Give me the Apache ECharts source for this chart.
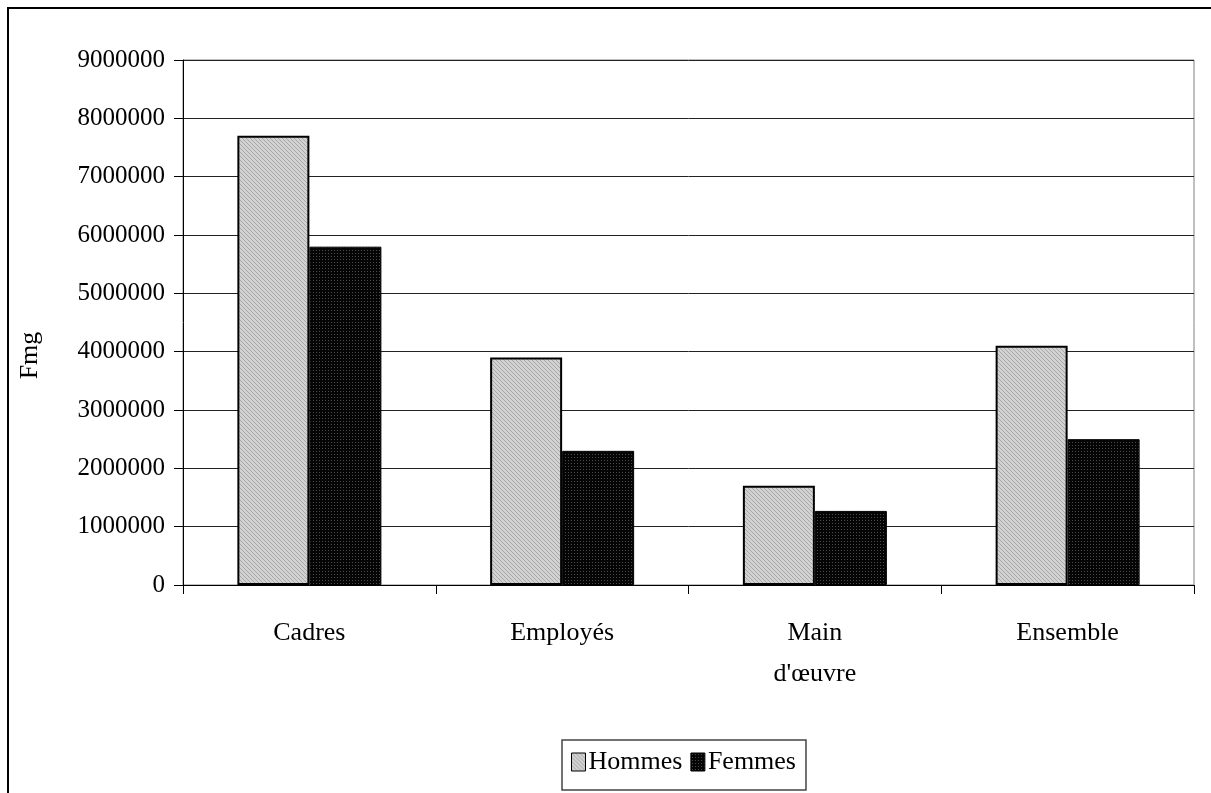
<!DOCTYPE html>
<html>
<head>
<meta charset="utf-8">
<script src="https://cdn.jsdelivr.net/npm/echarts@6/dist/echarts.min.js"></script>
<style>
html,body{margin:0;padding:0;background:#fff;}
#c{width:1211px;height:793px;}
</style>
</head>
<body>
<div id="c"></div>
<script>
const categories = ["Cadres", "Employés", "Main\nd'œuvre", "Ensemble"];
const hommes = [7700000, 3900000, 1700000, 4100000];
const femmes = [5800000, 2300000, 1270000, 2500000];
const seriesNames = ["Hommes", "Femmes"];
const yAxisName = "Fmg";

function makePattern(bg, fg, pts, size) {
  const cv = document.createElement('canvas');
  cv.width = size; cv.height = size;
  const ctx = cv.getContext('2d');
  ctx.fillStyle = bg; ctx.fillRect(0, 0, size, size);
  ctx.fillStyle = fg;
  pts.forEach(p => ctx.fillRect(p[0], p[1], 1, 1));
  return cv;
}
const hatch = makePattern('#d2d2d2', '#a8a8a8', [[0,0],[1,1],[2,2],[3,3]], 4);
const dots = makePattern('#050505', '#4a4a4a', [[1,1]], 3);

const font = '"Liberation Serif", "Times New Roman", serif';
const chart = echarts.init(document.getElementById('c'), null, {renderer: 'canvas'});
chart.setOption({
  animation: false,
  backgroundColor: '#fff',
  textStyle: {fontFamily: font, color: '#000'},
  graphic: [{
    type: 'rect', shape: {x: 8, y: 8, width: 1220, height: 800},
    style: {fill: 'none', stroke: '#000', lineWidth: 2}, silent: true, z: -1
  }],
  grid: {left: 183, top: 60, right: 17, bottom: 208, show: true, borderColor: '#808080', borderWidth: 1},
  legend: {
    left: 562, top: 740, itemWidth: 14, itemHeight: 18, itemGap: 8,
    padding: [9, 10, 15, 9],
    borderColor: '#444', borderWidth: 1.5,
    icon: 'rect',
    textStyle: {fontFamily: font, fontSize: 26, color: '#000', padding: [0, 0, 0, -2]},
    itemStyle: {borderColor: '#000', borderWidth: 1},
    data: seriesNames
  },
  xAxis: {
    type: 'category', data: categories,
    axisLine: {lineStyle: {color: '#000', width: 1}},
    axisTick: {show: true, length: 9, lineStyle: {color: '#000'}},
    axisLabel: {fontFamily: font, fontSize: 26, color: '#000', margin: 28, lineHeight: 41, verticalAlign: 'top'}
  },
  yAxis: {
    type: 'value', min: 0, max: 9000000, interval: 1000000,
    name: yAxisName, nameLocation: 'middle', nameGap: 140, nameRotate: 90,
    nameTextStyle: {fontFamily: font, fontSize: 26, color: '#000', padding: [0, 66, 0, 0]},
    axisLine: {show: true, lineStyle: {color: '#000', width: 1}},
    axisTick: {show: true, length: 9, lineStyle: {color: '#000'}},
    axisLabel: {fontFamily: font, fontSize: 25, color: '#000', margin: 18, formatter: v => String(v)},
    splitLine: {lineStyle: {color: '#222', width: 1}}
  },
  series: [
    {
      name: seriesNames[0], type: 'bar', data: hommes, barWidth: 72, barGap: '0%',
      itemStyle: {color: {image: hatch, repeat: 'repeat'}, borderColor: '#000', borderWidth: 2}
    },
    {
      name: seriesNames[1], type: 'bar', data: femmes, barWidth: 72, barGap: '0%',
      itemStyle: {color: {image: dots, repeat: 'repeat'}, borderColor: '#000', borderWidth: 1}
    }
  ]
});
</script>
</body>
</html>
